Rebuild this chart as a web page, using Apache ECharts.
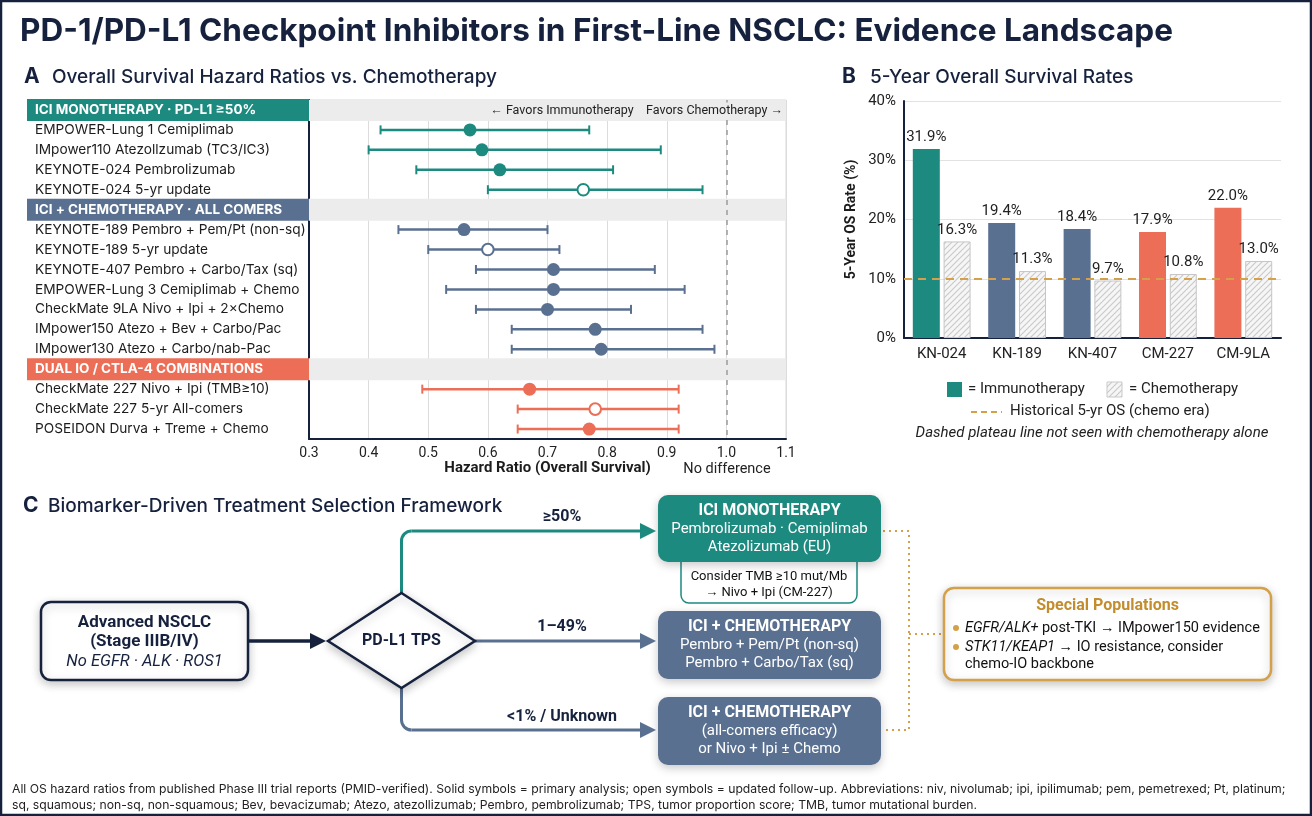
<!DOCTYPE html>
<html><head><meta charset="utf-8">
<script src="https://cdn.jsdelivr.net/npm/echarts@6/dist/echarts.min.js"></script>
<style>html,body{margin:0;padding:0;background:#fff}#c{width:1312px;height:816px}</style>
</head><body><div id="c"></div><script>
// ---------- DATA ----------
const groupNames = ['ICI MONOTHERAPY · PD-L1 ≥50%', 'ICI + CHEMOTHERAPY · ALL COMERS', 'DUAL IO / CTLA-4 COMBINATIONS'];
const trialNames = [
  'EMPOWER-Lung 1 Cemiplimab', 'IMpower110 Atezollzumab (TC3/IC3)', 'KEYNOTE-024 Pembrolizumab', 'KEYNOTE-024 5-yr update',
  'KEYNOTE-189 Pembro + Pem/Pt (non-sq)', 'KEYNOTE-189 5-yr update', 'KEYNOTE-407 Pembro + Carbo/Tax (sq)',
  'EMPOWER-Lung 3 Cemiplimab + Chemo', 'CheckMate 9LA Nivo + Ipi + 2×Chemo', 'IMpower150 Atezo + Bev + Carbo/Pac',
  'IMpower130 Atezo + Carbo/nab-Pac', 'CheckMate 227 Nivo + Ipi (TMB≥10)', 'CheckMate 227 5-yr All-comers',
  'POSEIDON Durva + Treme + Chemo'
];
const trialGroup = [0, 0, 0, 0, 1, 1, 1, 1, 1, 1, 1, 2, 2, 2];
const hrPoint = [0.57, 0.59, 0.62, 0.76, 0.56, 0.60, 0.71, 0.71, 0.70, 0.78, 0.79, 0.67, 0.78, 0.77];
const hrLower = [0.42, 0.40, 0.48, 0.60, 0.45, 0.50, 0.58, 0.53, 0.58, 0.64, 0.64, 0.49, 0.65, 0.65];
const hrUpper = [0.77, 0.89, 0.81, 0.96, 0.70, 0.72, 0.88, 0.93, 0.84, 0.96, 0.98, 0.92, 0.92, 0.92];
const isUpdate = [0, 0, 0, 1, 0, 1, 0, 0, 0, 0, 0, 0, 1, 0];
const hrAxisMin = 0.3, hrAxisMax = 1.1, hrAxisStep = 0.1, hrNoEffect = 1.0;

const osTrials = ['KN-024', 'KN-189', 'KN-407', 'CM-227', 'CM-9LA'];
const osIO = [31.9, 19.4, 18.4, 17.9, 22.0];
const osChemo = [16.3, 11.3, 9.7, 10.8, 13.0];
const osGroup = [0, 1, 1, 2, 2];
const osHistorical = 10;
const osAxisMax = 40, osAxisStep = 10;

// ---------- STYLE ----------
const FF = 'Roboto, "Noto Sans", sans-serif';
const FI = 'Inter, Roboto, sans-serif';
const NAVY = '#16213d';
const GROUP_COLORS = ['#1d8a80', '#5a7091', '#ec6e56'];
const GOLD = '#d4a04a';
const GOLD_TXT = '#c38d2d';

// build forest rows (headers + trials)
const rowLabels = [], rowKinds = [];
const trialRow = [];
groupNames.forEach((g, gi) => {
  rowLabels.push(g); rowKinds.push('h' + gi);
  trialNames.forEach((t, ti) => {
    if (trialGroup[ti] === gi) { trialRow[ti] = rowLabels.length; rowLabels.push(t); rowKinds.push('r'); }
  });
});
const forestData = trialNames.map((t, i) => [hrLower[i], hrPoint[i], hrUpper[i], trialRow[i], isUpdate[i], trialGroup[i]]);
const bandData = rowKinds.map(k => k === 'r' ? '-' : hrAxisMax);

// hatch pattern
const hatch = document.createElement('canvas');
hatch.width = 6; hatch.height = 6;
(function () {
  const c = hatch.getContext('2d');
  c.fillStyle = '#f6f6f6'; c.fillRect(0, 0, 6, 6);
  c.strokeStyle = '#c9c9c9'; c.lineWidth = 1.1;
  c.beginPath();
  c.moveTo(0, 6); c.lineTo(6, 0);
  c.moveTo(-1, 1); c.lineTo(1, -1);
  c.moveTo(5, 7); c.lineTo(7, 5);
  c.stroke();
})();
const hatchFill = { image: hatch, repeat: 'repeat' };

const chart = echarts.init(document.getElementById('c'), null, { renderer: 'canvas' });

function txt(x, y, text, opt) {
  opt = opt || {};
  return {
    type: 'text', x: x, y: y, z: opt.z || 50,
    style: Object.assign({
      text: text, fill: opt.color || NAVY, fontSize: opt.size || 14, fontWeight: opt.weight || 'normal',
      fontStyle: opt.style || 'normal', fontFamily: opt.font || FF,
      textAlign: opt.align || 'left', textVerticalAlign: 'middle',
      align: opt.align || 'left', verticalAlign: 'middle'
    }, opt.extra || {})
  };
}
function tri(x1, y, x2, color) {
  return { type: 'polygon', z: 40, shape: { points: [[x1, y - 8], [x2, y], [x1, y + 8]] }, style: { fill: color } };
}
const shadow = { shadowBlur: 10, shadowColor: 'rgba(0,0,0,0.22)', shadowOffsetY: 3 };

const graphics = [
  { type: 'rect', z: 100, shape: { x: 1, y: 1, width: 1310, height: 814 }, style: { fill: 'none', stroke: NAVY, lineWidth: 2.5 } },
  txt(20, 32, 'PD-1/PD-L1 Checkpoint Inhibitors in First-Line NSCLC: Evidence Landscape', { size: 31.5, weight: 'bold', font: FI }),
  txt(24, 77, 'A', { size: 21, weight: 'bold', font: FI }),
  txt(52, 77, 'Overall Survival Hazard Ratios vs. Chemotherapy', { size: 19, weight: 500, font: FI }),
  txt(842, 77, 'B', { size: 21, weight: 'bold', font: FI }),
  txt(870, 77, '5-Year Overall Survival Rates', { size: 19, weight: 500, font: FI }),
  txt(23, 506, 'C', { size: 21, weight: 'bold', font: FI }),
  txt(48, 506, 'Biomarker-Driven Treatment Selection Framework', { size: 19, weight: 500, font: FI }),

  // forest annotations
  txt(783, 111, '← Favors Immunotherapy    Favors Chemotherapy →', { size: 12.5, color: '#222', align: 'right', z: 60, extra: { backgroundColor: '#ececec', padding: [2, 0] } }),
  txt(727, 469, 'No difference', { size: 14.5, color: '#222', align: 'center' }),

  // panel B legend
  { type: 'rect', z: 40, shape: { x: 947, y: 382, width: 15, height: 15 }, style: { fill: GROUP_COLORS[0] } },
  txt(968, 389.5, '= Immunotherapy', { size: 15, color: '#222' }),
  { type: 'rect', z: 40, shape: { x: 1107, y: 382, width: 15, height: 15 }, style: { fill: hatchFill, stroke: '#c9c9c9', lineWidth: 1 } },
  txt(1129, 389.5, '= Chemotherapy', { size: 15, color: '#222' }),
  { type: 'line', z: 40, shape: { x1: 971, y1: 412, x2: 1002, y2: 412 }, style: { stroke: GOLD, lineWidth: 2, lineDash: [6, 4] } },
  txt(1010, 411, 'Historical 5-yr OS (chemo era)', { size: 15, color: '#222' }),
  txt(1092, 433, 'Dashed plateau line not seen with chemotherapy alone', { size: 15, color: '#222', style: 'italic', align: 'center' }),

  // ---- flowchart ----
  { type: 'rect', z: 30, shape: { x: 41, y: 602, width: 207, height: 78, r: 10 }, style: Object.assign({ fill: '#fff', stroke: NAVY, lineWidth: 2.5 }, shadow) },
  txt(144.5, 622.5, 'Advanced NSCLC', { size: 17, weight: 'bold', align: 'center' }),
  txt(144.5, 642, '(Stage IIIB/IV)', { size: 17, weight: 'bold', align: 'center' }),
  txt(144.5, 661.5, 'No EGFR · ALK · ROS1', { size: 16.5, style: 'italic', align: 'center' }),
  { type: 'line', z: 30, shape: { x1: 248, y1: 641, x2: 312, y2: 641 }, style: { stroke: NAVY, lineWidth: 3.5 } },
  tri(310, 641, 326, NAVY),
  { type: 'polygon', z: 30, shape: { points: [[401.5, 593], [475, 641], [401.5, 688], [328, 641]] }, style: Object.assign({ fill: '#fff', stroke: NAVY, lineWidth: 2.5 }, shadow) },
  txt(401.5, 641, 'PD-L1 TPS', { size: 16, weight: 'bold', align: 'center' }),

  // top branch
  { type: 'line', z: 25, shape: { x1: 401.5, y1: 593, x2: 401.5, y2: 541 }, style: { stroke: GROUP_COLORS[0], lineWidth: 3 } },
  { type: 'arc', z: 25, shape: { cx: 411.5, cy: 541, r: 10, startAngle: Math.PI, endAngle: Math.PI * 1.5, clockwise: true }, style: { stroke: GROUP_COLORS[0], lineWidth: 3, fill: 'none' } },
  { type: 'line', z: 25, shape: { x1: 411.5, y1: 531, x2: 642, y2: 531 }, style: { stroke: GROUP_COLORS[0], lineWidth: 3 } },
  tri(640, 531, 656, GROUP_COLORS[0]),
  txt(562, 517, '≥50%', { size: 16, weight: 'bold', align: 'center' }),
  // middle branch
  { type: 'line', z: 25, shape: { x1: 475, y1: 641, x2: 642, y2: 641 }, style: { stroke: GROUP_COLORS[1], lineWidth: 3 } },
  tri(640, 641, 656, GROUP_COLORS[1]),
  txt(562, 627, '1–49%', { size: 16, weight: 'bold', align: 'center' }),
  // bottom branch
  { type: 'line', z: 25, shape: { x1: 401.5, y1: 688, x2: 401.5, y2: 720 }, style: { stroke: GROUP_COLORS[1], lineWidth: 3 } },
  { type: 'arc', z: 25, shape: { cx: 411.5, cy: 720, r: 10, startAngle: Math.PI / 2, endAngle: Math.PI, clockwise: true }, style: { stroke: GROUP_COLORS[1], lineWidth: 3, fill: 'none' } },
  { type: 'line', z: 25, shape: { x1: 411.5, y1: 730, x2: 642, y2: 730 }, style: { stroke: GROUP_COLORS[1], lineWidth: 3 } },
  tri(640, 730, 656, GROUP_COLORS[1]),
  txt(562, 717, '<1% / Unknown', { size: 16, weight: 'bold', align: 'center' }),

  // TMB note box (behind box 1)
  { type: 'rect', z: 28, shape: { x: 681, y: 556, width: 176, height: 47, r: [0, 0, 8, 8] }, style: { fill: '#fff', stroke: GROUP_COLORS[0], lineWidth: 1.5 } },
  txt(769, 577, 'Consider TMB ≥10 mut/Mb', { size: 13, color: '#111', align: 'center' }),
  txt(769, 592.5, '→ Nivo + Ipi (CM-227)', { size: 13, color: '#111', align: 'center' }),
  // box 1
  { type: 'rect', z: 30, shape: { x: 658, y: 495, width: 223, height: 67, r: 10 }, style: Object.assign({ fill: GROUP_COLORS[0] }, shadow) },
  txt(769.5, 511, 'ICI MONOTHERAPY', { size: 16, weight: 'bold', color: '#fff', align: 'center' }),
  txt(769.5, 529.5, 'Pembrolizumab · Cemiplimab', { size: 15, color: '#fff', align: 'center' }),
  txt(769.5, 547.5, 'Atezolizumab (EU)', { size: 15, color: '#fff', align: 'center' }),
  // box 2
  { type: 'rect', z: 30, shape: { x: 658, y: 611, width: 223, height: 68, r: 10 }, style: Object.assign({ fill: GROUP_COLORS[1] }, shadow) },
  txt(769.5, 627, 'ICI + CHEMOTHERAPY', { size: 16, weight: 'bold', color: '#fff', align: 'center' }),
  txt(769.5, 645.5, 'Pembro + Pem/Pt (non-sq)', { size: 15, color: '#fff', align: 'center' }),
  txt(769.5, 663.5, 'Pembro + Carbo/Tax (sq)', { size: 15, color: '#fff', align: 'center' }),
  // box 3
  { type: 'rect', z: 30, shape: { x: 658, y: 697, width: 223, height: 68, r: 10 }, style: Object.assign({ fill: GROUP_COLORS[1] }, shadow) },
  txt(769.5, 713, 'ICI + CHEMOTHERAPY', { size: 16, weight: 'bold', color: '#fff', align: 'center' }),
  txt(769.5, 731.5, '(all-comers efficacy)', { size: 15, color: '#fff', align: 'center' }),
  txt(769.5, 749.5, 'or Nivo + Ipi ± Chemo', { size: 15, color: '#fff', align: 'center' }),

  // dotted connectors
  { type: 'polyline', z: 25, shape: { points: [[883, 531], [909, 531], [909, 730], [883, 730]] }, style: { stroke: GOLD, lineWidth: 2, lineDash: [2, 4], fill: 'none' } },
  { type: 'line', z: 25, shape: { x1: 909, y1: 634, x2: 943, y2: 634 }, style: { stroke: GOLD, lineWidth: 2, lineDash: [2, 4] } },
  // special populations
  { type: 'rect', z: 30, shape: { x: 944, y: 588, width: 327, height: 92, r: 10 }, style: Object.assign({ fill: '#fff', stroke: GOLD, lineWidth: 2.5 }, shadow) },
  txt(1107.5, 606, 'Special Populations', { size: 16, weight: 'bold', color: GOLD_TXT, align: 'center' }),
  { type: 'circle', z: 40, shape: { cx: 956, cy: 628, r: 3 }, style: { fill: GOLD } },
  { type: 'circle', z: 40, shape: { cx: 956, cy: 647, r: 3 }, style: { fill: GOLD } },
  txt(965, 628, '{i|EGFR/ALK+} post-TKI → IMpower150 evidence', { size: 14.5, color: '#111', extra: { rich: { i: { fontStyle: 'italic', fontSize: 14.5, fontFamily: FF, fill: '#111' } } } }),
  txt(965, 647, '{i|STK11/KEAP1} → IO resistance, consider', { size: 14.5, color: '#111', extra: { rich: { i: { fontStyle: 'italic', fontSize: 14.5, fontFamily: FF, fill: '#111' } } } }),
  txt(965, 664, 'chemo-IO backbone', { size: 14.5, color: '#111' }),

  // footer
  txt(12, 789, 'All OS hazard ratios from published Phase III trial reports (PMID-verified). Solid symbols = primary analysis; open symbols = updated follow-up. Abbreviations: niv, nivolumab; ipi, ipilimumab; pem, pemetrexed; Pt, platinum;', { size: 12.2, color: '#222', font: FI }),
  txt(12, 805, 'sq, squamous; non-sq, non-squamous; Bev, bevacizumab; Atezo, atezollizumab; Pembro, pembrolizumab; TPS, tumor proportion score; TMB, tumor mutational burden.', { size: 12.2, color: '#222', font: FI })
];

const richLabel = {
  r: { fontSize: 13.7, color: '#1c1c1c', fontFamily: FI, padding: [0, 0, 0, 8] }
};
GROUP_COLORS.forEach((c, i) => {
  richLabel['h' + i] = { fontSize: 13.5, fontWeight: 'bold', color: '#fff', fontFamily: FI, backgroundColor: c, width: 266, height: 22, lineHeight: 22, padding: [0, 8] };
});

const option = {
  backgroundColor: '#fff',
  animation: false,
  textStyle: { fontFamily: FF },
  graphic: { elements: graphics },
  grid: [
    { left: 309, top: 100, width: 477, height: 339, show: true, borderColor: '#d6d6d6', borderWidth: 1, containLabel: false },
    { left: 904, top: 101, width: 377, height: 237, containLabel: false }
  ],
  xAxis: [
    {
      gridIndex: 0, type: 'value', min: hrAxisMin, max: hrAxisMax, interval: hrAxisStep,
      axisLine: { show: true, onZero: false, lineStyle: { color: NAVY, width: 2 } },
      axisTick: { show: false },
      axisLabel: { color: '#222', fontSize: 14, margin: 7, formatter: v => v.toFixed(1) },
      splitLine: { show: true, lineStyle: { color: '#dcdcdc', width: 1 } },
      name: 'Hazard Ratio (Overall Survival)', nameLocation: 'middle', nameGap: 22,
      nameTextStyle: { fontSize: 15, fontWeight: 'bold', color: '#1c1c1c' }
    },
    {
      gridIndex: 1, type: 'category', data: osTrials,
      axisLine: { show: true, lineStyle: { color: NAVY, width: 2 } },
      axisTick: { show: false },
      axisLabel: { color: '#222', fontSize: 15, margin: 9 }
    }
  ],
  yAxis: [
    {
      gridIndex: 0, type: 'category', data: rowLabels, inverse: true,
      axisLine: { show: true, lineStyle: { color: NAVY, width: 2 } },
      axisTick: { show: false },
      splitLine: { show: false },
      axisLabel: {
        align: 'left', margin: 282, interval: 0,
        formatter: (v, i) => '{' + (rowKinds[i] === 'r' ? 'r' : rowKinds[i]) + '|' + v + '}',
        rich: richLabel
      }
    },
    {
      gridIndex: 1, type: 'value', min: 0, max: osAxisMax, interval: osAxisStep,
      axisLine: { show: true, lineStyle: { color: NAVY, width: 2 } },
      axisTick: { show: false },
      axisLabel: { color: '#222', fontSize: 15, formatter: '{value}%', margin: 8 },
      splitLine: { lineStyle: { color: '#e2e2e2' } },
      name: '5-Year OS Rate (%)', nameLocation: 'middle', nameGap: 46, nameRotate: 90,
      nameTextStyle: { fontSize: 14, fontWeight: 'bold', color: '#1c1c1c' }
    }
  ],
  series: [
    {
      type: 'bar', xAxisIndex: 0, yAxisIndex: 0, data: bandData, barWidth: 22, silent: true, z: 1,
      itemStyle: { color: '#ececec' }, clip: true
    },
    {
      type: 'line', xAxisIndex: 0, yAxisIndex: 0, data: [], z: 2, silent: true,
      markLine: {
        silent: true, symbol: 'none', label: { show: false },
        lineStyle: { color: '#9a9a9a', type: [5, 5], width: 1.5 },
        data: [{ xAxis: hrNoEffect }]
      }
    },
    {
      type: 'custom', xAxisIndex: 0, yAxisIndex: 0, z: 5, data: forestData,
      encode: { x: [0, 1, 2], y: 3 },
      renderItem: function (params, api) {
        const lo = api.coord([api.value(0), api.value(3)]);
        const pt = api.coord([api.value(1), api.value(3)]);
        const hi = api.coord([api.value(2), api.value(3)]);
        const col = GROUP_COLORS[api.value(5)];
        const open = api.value(4) === 1;
        const cap = 4.5;
        return {
          type: 'group', children: [
            { type: 'line', shape: { x1: lo[0], y1: lo[1], x2: hi[0], y2: hi[1] }, style: { stroke: col, lineWidth: 2.5 } },
            { type: 'line', shape: { x1: lo[0], y1: lo[1] - cap, x2: lo[0], y2: lo[1] + cap }, style: { stroke: col, lineWidth: 2 } },
            { type: 'line', shape: { x1: hi[0], y1: hi[1] - cap, x2: hi[0], y2: hi[1] + cap }, style: { stroke: col, lineWidth: 2 } },
            { type: 'circle', shape: { cx: pt[0], cy: pt[1], r: open ? 5.8 : 6.5 }, style: { fill: open ? '#fff' : col, stroke: col, lineWidth: open ? 2 : 0 } }
          ]
        };
      }
    },
    {
      type: 'bar', xAxisIndex: 1, yAxisIndex: 1, name: 'Immunotherapy', barWidth: 27, barGap: '14%',
      data: osIO.map((v, i) => ({ value: v, itemStyle: { color: GROUP_COLORS[osGroup[i]] } })),
      label: { show: true, position: 'top', distance: 4, fontSize: 15, color: '#222', formatter: p => p.value.toFixed(1) + '%' },
      markLine: {
        silent: true, symbol: 'none', label: { show: false }, z: 10,
        lineStyle: { color: GOLD, type: [8, 6], width: 2 },
        data: [{ yAxis: osHistorical }]
      }
    },
    {
      type: 'bar', xAxisIndex: 1, yAxisIndex: 1, name: 'Chemotherapy', barWidth: 27, barGap: '14%',
      data: osChemo,
      itemStyle: { color: hatchFill, borderColor: '#c6c6c6', borderWidth: 1 },
      label: { show: true, position: 'top', distance: 4, fontSize: 15, color: '#222', formatter: p => p.value.toFixed(1) + '%' }
    }
  ]
};
chart.setOption(option);
</script></body></html>
